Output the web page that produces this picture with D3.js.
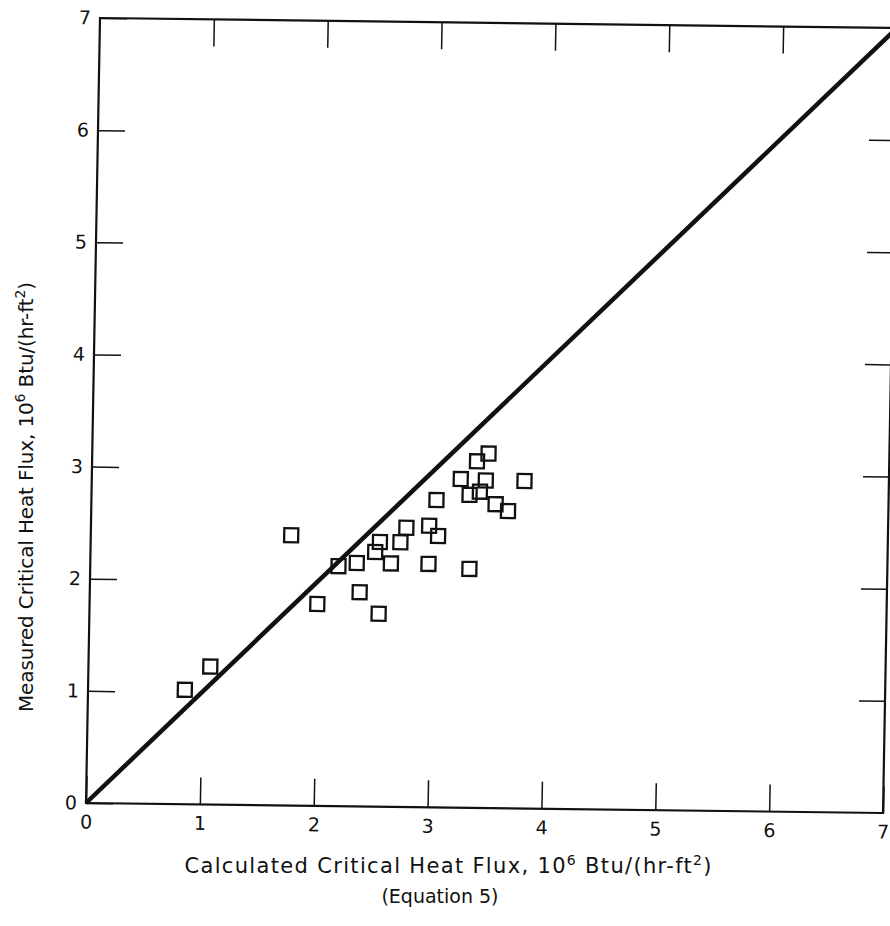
<!DOCTYPE html>
<html>
<head>
<meta charset="utf-8">
<script src="https://cdn.jsdelivr.net/npm/d3@7"></script>
<style>
  body { margin: 0; background: #fff; }
  svg text { font-family: "DejaVu Sans", "Liberation Sans", sans-serif; fill: #111; }
  .tick line { stroke: #111; stroke-width: 1.5; }
  .domain { display: none; }
</style>
</head>
<body>
<svg id="chart" width="890" height="926"></svg>
<script>
// values
var calculated = [0.85, 1.07, 1.76, 2.0, 2.18, 2.34, 2.37, 2.5, 2.54, 2.54, 2.64, 2.72, 2.77,
  2.97, 3.05, 2.97, 3.03, 3.33, 3.24, 3.38, 3.48, 3.32, 3.41, 3.46, 3.55, 3.66, 3.8];
var measured = [1.02, 1.23, 2.41, 1.8, 2.14, 2.17, 1.91, 2.27, 2.36, 1.72, 2.17, 2.36, 2.49,
  2.51, 2.42, 2.17, 2.74, 2.13, 2.93, 3.09, 3.16, 2.79, 2.82, 2.92, 2.71, 2.65, 2.92];
var tickValues = [0, 1, 2, 3, 4, 5, 6, 7];
var innerTicks = [1, 2, 3, 4, 5, 6];
var diagonal = [[0, 0], [7, 7]];

var W = 797, H = 785;
var svg = d3.select('#chart');
svg.append('rect').attr('width', 890).attr('height', 926).attr('fill', '#fff');

// the scan is a little skewed, so the plot frame is sheared to follow it
var g = svg.append('g')
  .attr('transform', 'matrix(1,0.01255,-0.01783,1,100,18)');

var x = d3.scaleLinear().domain([0, 7]).range([0, W]);
var y = d3.scaleLinear().domain([0, 7]).range([H, 0]);

// axes with inward ticks
g.append('g').attr('class', 'axis')
  .attr('transform', 'translate(0,' + H + ')')
  .call(d3.axisBottom(x).tickValues(tickValues).tickSize(-27).tickPadding(12).tickFormat(d3.format('d')))
  .selectAll('text').style('font-size', '19px').attr('fill', '#111');

g.append('g').attr('class', 'axis')
  .call(d3.axisLeft(y).tickValues(tickValues).tickSize(-27).tickPadding(9).tickFormat(d3.format('d')))
  .selectAll('text').style('font-size', '19px').attr('fill', '#111');

g.append('g').attr('class', 'axis')
  .call(d3.axisTop(x).tickValues(innerTicks).tickSize(-27).tickFormat(''));

g.append('g').attr('class', 'axis')
  .attr('transform', 'translate(' + W + ',0)')
  .call(d3.axisRight(y).tickValues(innerTicks).tickSize(-26).tickFormat(''));

// frame
g.append('rect')
  .attr('x', x(0)).attr('y', y(7))
  .attr('width', x(7) - x(0)).attr('height', y(0) - y(7))
  .attr('fill', 'none').attr('stroke', '#111').attr('stroke-width', 2.2);

// 45 degree line
g.append('path')
  .datum(diagonal)
  .attr('d', d3.line().x(function(d) { return x(d[0]); }).y(function(d) { return y(d[1]); }))
  .attr('fill', 'none').attr('stroke', '#111').attr('stroke-width', 4.5);

// data squares
var s = 14;
g.selectAll('.pt').data(calculated).enter().append('rect')
  .attr('class', 'pt')
  .attr('x', function(d) { return x(d) - s / 2; })
  .attr('y', function(d, i) { return y(measured[i]) - s / 2; })
  .attr('width', s).attr('height', s)
  .attr('fill', 'none').attr('stroke', '#111').attr('stroke-width', 2.3);

// axis titles
var xt = svg.append('text')
  .attr('x', 448).attr('y', 873)
  .attr('text-anchor', 'middle')
  .style('font-size', '21px')
  .attr('textLength', 527).attr('lengthAdjust', 'spacing');
xt.append('tspan').text('Calculated  Critical  Heat  Flux, 10');
xt.append('tspan').attr('baseline-shift', 'super').style('font-size', '14px').text('6');
xt.append('tspan').text(' Btu/(hr-ft');
xt.append('tspan').attr('baseline-shift', 'super').style('font-size', '14px').text('2');
xt.append('tspan').text(')');

svg.append('text')
  .attr('x', 440).attr('y', 903)
  .attr('text-anchor', 'middle')
  .style('font-size', '19px')
  .text('(Equation 5)');

var yt = svg.append('text')
  .attr('transform', 'translate(33,497) rotate(-90)')
  .attr('text-anchor', 'middle')
  .style('font-size', '20px')
  .attr('textLength', 430).attr('lengthAdjust', 'spacing');
yt.append('tspan').text('Measured  Critical  Heat  Flux, 10');
yt.append('tspan').attr('baseline-shift', 'super').style('font-size', '14px').text('6');
yt.append('tspan').text(' Btu/(hr-ft');
yt.append('tspan').attr('baseline-shift', 'super').style('font-size', '14px').text('2');
yt.append('tspan').text(')');
</script>
</body>
</html>
